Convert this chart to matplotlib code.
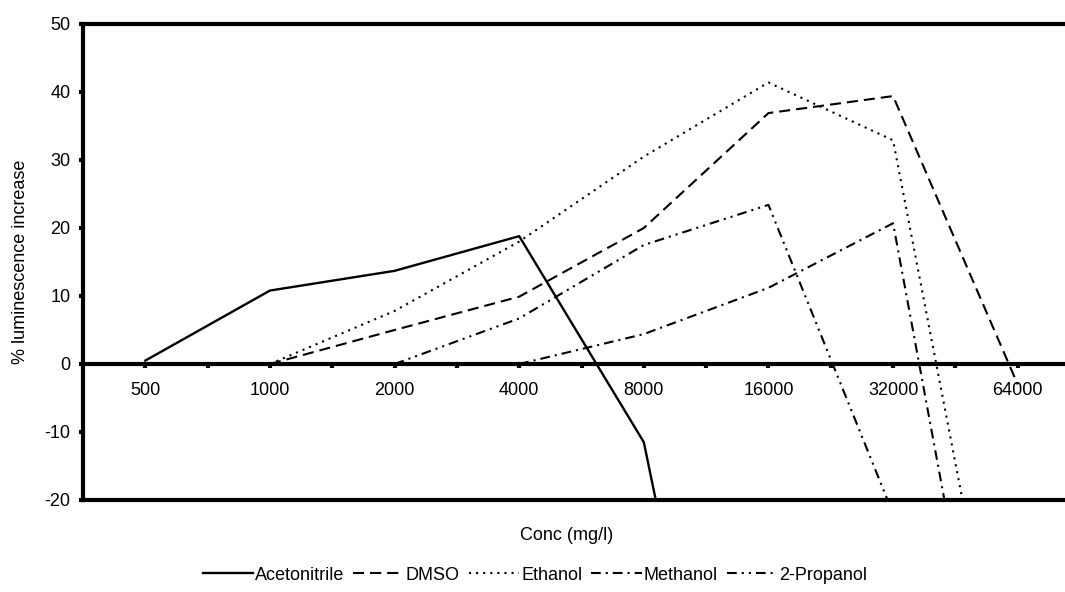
import numpy as np
import matplotlib
matplotlib.use("Agg")
import matplotlib.pyplot as plt

plt.rcParams['font.family'] = ['Liberation Sans', 'DejaVu Sans']
plt.rcParams['lines.scale_dashes'] = False
plt.rcParams['axes.unicode_minus'] = False

# concentrations (mg/l), plotted as evenly spaced categories
conc = ['500', '1000', '2000', '4000', '8000', '16000', '32000', '64000']
nan = np.nan

acetonitrile = [0.5, 10.8, 13.7, 18.8, -11.5, -100, nan, nan]
dmso = [nan, 0, 5.0, 9.9, 20.0, 36.9, 39.4, -3]
ethanol = [nan, 0, 7.8, 18.0, 30.5, 41.4, 32.9, -62]
methanol = [nan, nan, nan, 0, 4.4, 11.2, 20.7, -78]
propanol = [nan, nan, 0, 6.7, 17.5, 23.4, -22, nan]

x = np.arange(len(conc))
fs = 13

fig = plt.figure(figsize=(10.65, 5.92), dpi=100)
ax = fig.add_axes([83 / 1065, 1 - 500 / 592, 997 / 1065, 476 / 592])

lw = 1.5
ax.plot(x, acetonitrile, color='black', lw=1.7, label='Acetonitrile')
ax.plot(x, dmso, color='black', lw=lw, dashes=(8, 4.3), label='DMSO')
ax.plot(x, ethanol, color='black', lw=lw, dashes=(1.5, 3.6), label='Ethanol')
ax.plot(x, methanol, color='black', lw=lw, dashes=(7, 3.6, 1.5, 3.6), label='Methanol')
ax.plot(x, propanol, color='black', lw=lw, dashes=(7, 3.6, 1.5, 3.6, 1.5, 3.6),
        label='2-Propanol')

ax.set_xlim(-0.5, 7.5)
ax.set_ylim(-20, 50)
ax.set_yticks(np.arange(-20, 51, 10))

# x axis drawn along zero, extra line at the bottom of the plot area
ax.spines['bottom'].set_position(('data', 0))
ax.spines['right'].set_visible(False)
for s in ['left', 'top', 'bottom']:
    ax.spines[s].set_linewidth(3)
ax.axhline(-20, color='black', lw=3, clip_on=False, zorder=3)

ax.set_xticks(x)
ax.set_xticklabels(conc)
ax.set_xticks(np.arange(0.5, 7.5, 1), minor=True)
ax.tick_params(axis='x', which='both', direction='out', length=3, width=3,
               pad=10, labelsize=fs)
ax.tick_params(axis='y', direction='out', length=3, width=3, pad=6,
               labelsize=fs)

ax.set_ylabel('% luminescence increase', fontsize=fs, labelpad=11)
fig.text(567 / 1065, 1 - 535 / 592, 'Conc (mg/l)', ha='center', va='center',
         fontsize=fs)

fig.legend(loc='center', bbox_to_anchor=(535 / 1065, 1 - 575 / 592), ncol=5,
           frameon=False, fontsize=fs, handlelength=2.8, handletextpad=0.1,
           columnspacing=0.5)

fig.savefig('out.png', dpi=100)
